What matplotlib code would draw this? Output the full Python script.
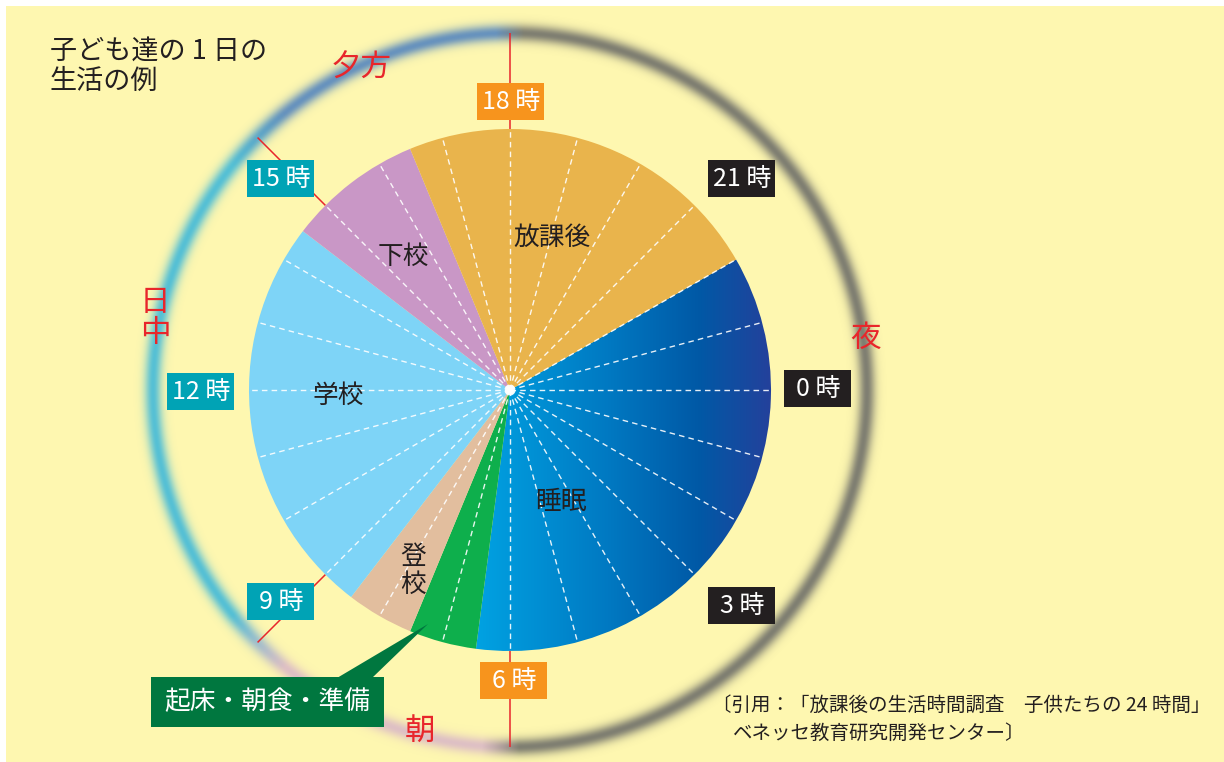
import numpy as np
import matplotlib
matplotlib.use("Agg")
import matplotlib.pyplot as plt
from matplotlib.patches import Wedge, Rectangle, Polygon, Circle
from matplotlib.colors import LinearSegmentedColormap, to_rgba

plt.rcParams['font.family'] = ['Noto Sans CJK JP', 'DejaVu Sans']

# ---------------- data ----------------
activities = ["睡眠", "起床・朝食・準備", "登校", "学校", "下校", "放課後"]
start_hours = [22.0, 6.5, 7.5, 8.5, 14.5, 16.5]
durations = [8.5, 1.0, 1.0, 6.0, 2.0, 5.5]
slice_colors = [None, "#0eaf4c", "#e2be9e", "#7ed4f7", "#c997c6", "#e9b44c"]
slice_label_text = ["睡眠", None, "登\n校", "学校", "下校", "放課後"]

hour_ticks = [0, 3, 6, 9, 12, 15, 18, 21]
hour_labels = ["0 時", "3 時", "6 時", "9 時", "12 時", "15 時", "18 時", "21 時"]
tick_box_colors = ["#231f20", "#231f20", "#f7941d", "#00a3b5",
                   "#00a3b5", "#00a3b5", "#f7941d", "#231f20"]

periods = ["夜", "朝", "日中", "夕方"]
period_boundaries = [6, 9, 15, 18]

title = "子ども達の 1 日の\n生活の例"
citation_1 = "〔引用：「放課後の生活時間調査　子供たちの 24 時間」"
citation_2 = "ベネッセ教育研究開発センター〕"

# ---------------- layout ----------------
W, H = 1224, 762
CX, CY = 510, 390
R = 261
RING_R = 357
BG = "#fef7b0"
TXT = "#231f20"
RED = "#e8262b"

fig = plt.figure(figsize=(W / 100, H / 100), dpi=100, facecolor="white")
ax = fig.add_axes([0, 0, 1, 1])
ax.set_xlim(0, W)
ax.set_ylim(H, 0)
ax.axis("off")

ax.add_patch(Rectangle((6, 6), W - 6, H - 6, facecolor=BG, edgecolor="none", zorder=0))

# ---- blurred ring (period colours) ----
yy, xx = np.mgrid[0:H, 0:W] + 0.5
rr = np.hypot(xx - CX, yy - CY)
hh = (np.degrees(np.arctan2(yy - CY, xx - CX)) % 360) / 15.0
gray, pink, cyan, blue = (to_rgba(c) for c in ["#74746c", "#d4aecb", "#4cbdd7", "#5f8dbe"])
stops_h = [0, 5.9, 6.3, 8.6, 9.4, 14.6, 15.4, 17.85, 18.15, 24]
stops_c = [gray, gray, pink, pink, cyan, cyan, blue, blue, gray, gray]
stops_a = [0.92, 0.92, 0.75, 0.75, 0.95, 0.95, 0.95, 0.95, 0.92, 0.92]
img = np.zeros((H, W, 4))
for k in range(3):
    img[..., k] = np.interp(hh, stops_h, [c[k] for c in stops_c])
peak = np.interp(hh, stops_h, stops_a)
img[..., 3] = peak * np.exp(-0.5 * ((rr - RING_R) / 6.0) ** 2)
ax.imshow(img, extent=(0, W, H, 0), origin="upper", aspect="auto", zorder=1,
          interpolation="bilinear")

# ---- red period boundary lines ----
for h in period_boundaries:
    t = np.radians(15 * h)
    ax.plot([CX + R * np.cos(t), CX + RING_R * np.cos(t)],
            [CY + R * np.sin(t), CY + RING_R * np.sin(t)],
            color=RED, lw=1.1, zorder=2, solid_capstyle="butt")

# ---- pie slices ----
sleep_cmap = LinearSegmentedColormap.from_list(
    "sleep", [(0, "#00a3e3"), (0.45, "#0079c2"), (0.75, "#0059a6"), (1.0, "#25409b")])
for name, s, d, col in zip(activities, start_hours, durations, slice_colors):
    w = Wedge((CX, CY), R, 15 * s, 15 * (s + d),
              facecolor=col if col else "none", edgecolor="none", zorder=3)
    ax.add_patch(w)
    if col is None:
        grad = np.linspace(0, 1, 400)[None, :].repeat(2, axis=0)
        im = ax.imshow(grad, cmap=sleep_cmap, extent=(472, 774, CY + R + 2, CY - R - 2),
                       origin="upper", aspect="auto", zorder=3)
        im.set_clip_path(w)

# ---- hourly dashed lines ----
for h in range(24):
    t = np.radians(15 * h)
    ax.plot([CX, CX + R * np.cos(t)], [CY, CY + R * np.sin(t)],
            color="white", lw=1.0, dashes=(4, 3), alpha=0.9, zorder=4)
ax.add_patch(Circle((CX, CY), 5, facecolor="white", edgecolor="none", alpha=0.85, zorder=5))

# ---- slice labels ----
slice_label_offsets = [(51, 112), None, (-97, 181), (-172, 6), (-107, -133), (42, -152)]
for txt, off in zip(slice_label_text, slice_label_offsets):
    if txt is None:
        continue
    ax.text(CX + off[0], CY + off[1], txt, ha="center", va="center", fontsize=18.5,
            color=TXT, linespacing=1.05, zorder=6)

# ---- hour boxes ----
hour_offsets = [(307, -2), (231, 215), (3, 290), (-230, 211),
                (-310, 1), (-230, -212), (0, -289), (231, -212)]
BW, BH = 67, 37
for lab, col, off in zip(hour_labels, tick_box_colors, hour_offsets):
    x, y = CX + off[0], CY + off[1]
    ax.add_patch(Rectangle((x - BW / 2, y - BH / 2), BW, BH, facecolor=col,
                           edgecolor="none", zorder=7))
    ax.text(x + 1, y + 1, lab, ha="center", va="center", fontsize=18, color="white", zorder=8)

# ---- period labels ----
period_offsets = [(356, -52), (-90, 341), (-355, -72), (-149, -322)]
for p, off in zip(periods, period_offsets):
    txt = "\n".join(p) if p == "日中" else p
    ax.text(CX + off[0], CY + off[1], txt, ha="center", va="center", fontsize=22,
            color=RED, linespacing=1.0, zorder=8)

# ---- annotation for 起床・朝食・準備 ----
ax.add_patch(Polygon([(428, 624), (337, 678), (372, 678)], closed=True,
                     facecolor="#00773f", edgecolor="none", zorder=7))
ax.add_patch(Rectangle((151, 677), 233, 50, facecolor="#00773f", edgecolor="none", zorder=7))
ax.text(267.5, 702, activities[1], ha="center", va="center", fontsize=18.5,
        color="white", zorder=8)

# ---- title & citation ----
ax.text(50, 38, title, ha="left", va="top", fontsize=19.5, color=TXT,
        linespacing=1.12, zorder=8)
ax.text(712, 705, citation_1, ha="left", va="center", fontsize=14, color=TXT, zorder=8)
ax.text(733, 733, citation_2, ha="left", va="center", fontsize=14, color=TXT, zorder=8)

fig.savefig("out.png", dpi=100, facecolor="white")
